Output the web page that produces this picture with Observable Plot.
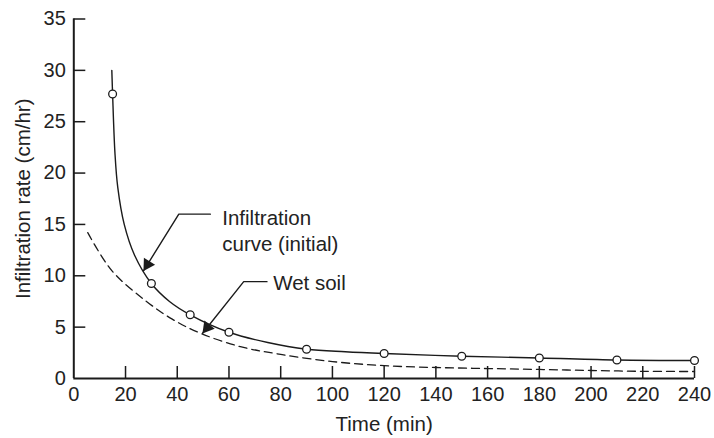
<!DOCTYPE html>
<html>
<head>
<meta charset="utf-8">
<script src="https://cdn.jsdelivr.net/npm/d3@7"></script>
<script src="https://cdn.jsdelivr.net/npm/@observablehq/plot@0.6"></script>
<style>
  html, body { margin: 0; padding: 0; background: #fff; }
  #chart svg { display: block; }
</style>
</head>
<body>
<div id="chart"></div>
<script>
// Measured infiltration rates (open circles)
const obsTime = [15, 30, 45, 60, 90, 120, 150, 180, 210, 240];
const obsRate = [27.7, 9.25, 6.2, 4.5, 2.85, 2.43, 2.17, 2.0, 1.8, 1.75];

// Initial infiltration curve (solid line)
const initTime = [14.7, 15, 15.9, 17.0, 19.5, 23.5, 30, 37, 45, 60, 75, 90, 105, 120, 150, 180, 210, 240];
const initRate = [30.0, 27.7, 22.0, 18.6, 15.0, 12.0, 9.25, 7.5, 6.2, 4.5, 3.5, 2.85, 2.6, 2.43, 2.17, 2.0, 1.8, 1.75];

// Wet soil curve (dashed line)
const wetTime = [5.4, 14.7, 27.6, 37.9, 49, 64.4, 80, 100, 120, 140, 160, 180, 200, 220, 240];
const wetRate = [14.2, 10.5, 7.6, 5.8, 4.4, 3.1, 2.35, 1.65, 1.25, 1.07, 0.97, 0.88, 0.78, 0.7, 0.68];

// Tick values
const xTicks = [0, 20, 40, 60, 80, 100, 120, 140, 160, 180, 200, 220, 240];
const yTicks = [0, 5, 10, 15, 20, 25, 30, 35];

// Annotations
const annoText = ["Infiltration\ncurve (initial)", "Wet soil"];
const annoTextTime = [57.4, 77.1];
const annoTextRate = [16.82, 9.43];
const annoLineAnchor = ["top", "middle"];
const leaderTime = [[52.8, 40.6, 27.0], [74.7, 65.7, 49.8]];
const leaderRate = [[16.0, 16.0, 10.5], [9.43, 9.43, 4.4]];

const W = 714, H = 438;
const mL = 73.3, mR = 20, mT = 18.5, mB = 60;
const frameW = W - mL - mR, frameH = H - mT - mB;
const ink = "#1b1b1b";
const textInk = "#222";
const font = "'Liberation Sans', Arial, Helvetica, sans-serif";

const obs = obsTime.map((t, i) => ({t, v: obsRate[i]}));
const init = initTime.map((t, i) => ({t, v: initRate[i]}));
const wet = wetTime.map((t, i) => ({t, v: wetRate[i]}));
const annos = annoText.map((s, i) => ({s, t: annoTextTime[i], v: annoTextRate[i], la: annoLineAnchor[i]}));
const leaders = leaderTime.flatMap((ts, k) => ts.map((t, j) => ({k, t, v: leaderRate[k][j]})));
const heads = leaderTime.map((ts, k) => ({k, t: ts[2], v: leaderRate[k][2], t0: ts[1], v0: leaderRate[k][1]}));

const xs = d3.scaleLinear().domain([0, 240]).range([mL, W - mR]);
const ys = d3.scaleLinear().domain([0, 35]).range([H - mB, mT]);
const headLen = 7.3;
heads.forEach(h => {
  const dx = xs(h.t) - xs(h.t0), dy = ys(h.v) - ys(h.v0);
  const len = Math.hypot(dx, dy);
  h.ux = dx / len; h.uy = dy / len;
  h.angle = Math.atan2(dx, -dy) * 180 / Math.PI;
});

const marks = [
  Plot.ruleX([0], {stroke: ink, strokeWidth: 2}),
  Plot.ruleY([0], {stroke: ink, strokeWidth: 2}),
  Plot.tickX(xTicks.slice(1), {x: d => d, stroke: ink, strokeWidth: 1.5, insetTop: frameH - 12}),
  Plot.tickY(yTicks.slice(1), {y: d => d, stroke: ink, strokeWidth: 1.5, insetRight: frameW - 12}),
  Plot.axisX(xTicks, {tickSize: 0, tickPadding: 8, fontSize: 20, fill: textInk, label: null}),
  Plot.axisY(yTicks, {tickSize: 0, tickPadding: 8, fontSize: 20, fill: textInk, label: null}),
  Plot.text(["Time (min)"], {text: d => d, frameAnchor: "bottom", dy: 46, lineAnchor: "middle", fontSize: 20.5, fill: textInk}),
  Plot.text(["Infiltration rate (cm/hr)"], {text: d => d, frameAnchor: "left", dx: -50, rotate: -90, textAnchor: "middle", lineAnchor: "middle", fontSize: 20.5, fill: textInk}),
  Plot.line(wet, {x: "t", y: "v", curve: "catmull-rom", stroke: ink, strokeWidth: 1.3, strokeDasharray: "8,5"}),
  Plot.line(init, {x: "t", y: "v", curve: "catmull-rom", stroke: ink, strokeWidth: 1.4}),
  Plot.dot(obs, {x: "t", y: "v", r: 3.9, fill: "white", stroke: ink, strokeWidth: 1.3}),
  Plot.line(leaders, {x: "t", y: "v", z: "k", stroke: ink, strokeWidth: 1.4, curve: "linear"}),
  ...heads.map(h => Plot.dot([h], {x: "t", y: "v", symbol: "triangle", r: 4.9, fill: ink, stroke: "none",
    rotate: h.angle, dx: -h.ux * headLen, dy: -h.uy * headLen})),
  ...annos.map(a => Plot.text([a], {x: "t", y: "v", text: "s", textAnchor: "start", lineAnchor: a.la, lineHeight: 1.3, fontSize: 20.5, fill: textInk}))
];

const chart = Plot.plot({
  width: W,
  height: H,
  marginLeft: mL,
  marginRight: mR,
  marginTop: mT,
  marginBottom: mB,
  x: {domain: [0, 240], axis: null},
  y: {domain: [0, 35], axis: null},
  style: {fontFamily: font, fontSize: "20px", color: textInk, background: "white", overflow: "visible"},
  marks
});
document.getElementById("chart").appendChild(chart);
</script>
</body>
</html>
